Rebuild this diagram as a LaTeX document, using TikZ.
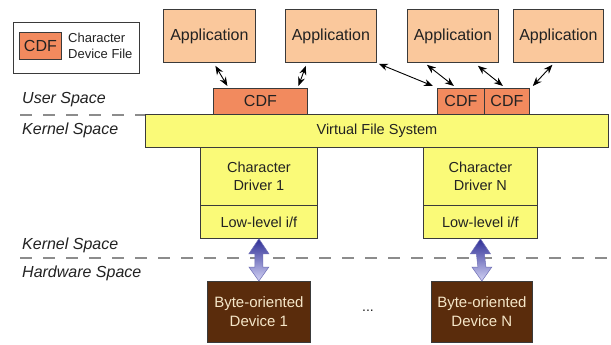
\documentclass[tikz,border=0pt]{standalone}
\usepackage{fontspec}
\setmainfont{Liberation Sans}
\usetikzlibrary{calc,arrows.meta}
\definecolor{appfill}{HTML}{FAC89C}
\definecolor{cdffill}{HTML}{F28A5E}
\definecolor{vfsfill}{HTML}{FAFA78}
\definecolor{devfill}{HTML}{5A2C0C}
\definecolor{devtext}{HTML}{F5E6C8}
\definecolor{linec}{HTML}{3A3A3A}
\definecolor{txt}{HTML}{222222}
\definecolor{dashc}{HTML}{8C8C8C}
\definecolor{arrdark}{HTML}{2E2E96}
\definecolor{arrlight}{HTML}{D2D2F4}
\begin{document}
\begin{tikzpicture}[x=1pt,y=-1pt,
  box/.style={draw=linec, line width=0.8pt, inner sep=0pt, anchor=north west, text=txt, align=center},
  appbox/.style={box, fill=appfill, font=\fontsize{16}{18}\selectfont},
  cdfbox/.style={box, fill=cdffill, font=\fontsize{16}{18}\selectfont},
  ybox/.style={box, fill=vfsfill, font=\fontsize{14.5}{18}\selectfont},
  devbox/.style={box, fill=devfill, text=devtext, font=\fontsize{15}{19}\selectfont},
  lbl/.style={anchor=west, inner sep=0pt, text=txt, font=\fontsize{16}{18}\selectfont\itshape},
  sep/.style={draw=dashc, line width=1.3pt, dash pattern=on 12pt off 11pt},
  link/.style={draw=black, line width=0.9pt, {Stealth[length=9pt,width=7pt]}-{Stealth[length=9pt,width=7pt]}},
  fat/.style={top color=arrdark, bottom color=arrlight, draw=arrdark!70, line width=0.5pt}
]
\useasboundingbox (0,0) rectangle (611,345);
\fill[white] (0,0) rectangle (611,345);

% separators
\coordinate (s1a) at (20,115); \coordinate (s1b) at (611,115);
\coordinate (s2a) at (20,258); \coordinate (s2b) at (611,258);
\draw[sep] (s1a) -- (s1b);
\draw[sep] (s2a) -- (s2b);

% legend
\node[box, fill=white, minimum width=126pt, minimum height=51pt] (legend) at (13,22) {};
\node[cdfbox, minimum width=42pt, minimum height=27pt] (lcdf) at (19,32) {CDF};
\node[anchor=west, inner sep=0pt, align=left, text=txt, font=\fontsize{13}{16}\selectfont] (ltext) at (68,46) {Character\\Device File};

% applications
\node[appbox, minimum width=92pt, minimum height=53pt] (app1) at (163,9) {Application};
\node[appbox, minimum width=91pt, minimum height=53pt] (app2) at (285,9) {Application};
\node[appbox, minimum width=91pt, minimum height=53pt] (app3) at (407,9) {Application};
\node[appbox, minimum width=90pt, minimum height=53pt] (app4) at (513,9) {Application};

% CDFs
\node[cdfbox, minimum width=94pt, minimum height=26pt] (cdf1) at (213,88) {CDF};
\node[cdfbox, minimum width=47pt, minimum height=26pt] (cdfa) at (437,88) {CDF};
\node[cdfbox, minimum width=45pt, minimum height=26pt] (cdfb) at (484,88) {CDF};

% VFS
\node[ybox, minimum width=463pt, minimum height=33pt] (vfs) at (145,114) {Virtual File System};

% drivers
\node[ybox, minimum width=117pt, minimum height=58pt] (drv1) at (200,147) {Character\\Driver 1};
\node[ybox, minimum width=117pt, minimum height=33pt] (ll1) at (200,205) {Low-level i/f};
\node[ybox, minimum width=114pt, minimum height=58pt] (drvN) at (423,147) {Character\\Driver N};
\node[ybox, minimum width=114pt, minimum height=33pt] (llN) at (423,205) {Low-level i/f};

% devices
\node[devbox, minimum width=103pt, minimum height=61pt] (dev1) at (207,281) {Byte-oriented\\Device 1};
\node[devbox, minimum width=101pt, minimum height=61pt] (devN) at (431,281) {Byte-oriented\\Device N};
\node[inner sep=0pt, text=txt, font=\fontsize{14}{16}\selectfont] (dots) at (368,311) {...};

% labels
\node[lbl] (us) at (22,100) {User Space};
\node[lbl] (ks1) at (22,130) {Kernel Space};
\node[lbl] (ks2) at (22,245) {Kernel Space};
\node[lbl] (hs) at (22,273) {Hardware Space};

% app-cdf links
\draw[link] ($(app1.south)+(6,3)$) -- ($(cdf1.north)+(-33,-2)$);
\draw[link] ($(app2.south)+(-25,3)$) -- ($(cdf1.north)+(38,-2)$);
\draw[link] ($(app2.south east)+(2,1)$) -- ($(cdfa.north west)+(-4,-2)$);
\draw[link] ($(app3.south)+(-26,2)$) -- ($(cdfa.north)+(-7,-2)$);
\draw[link] ($(app3.south)+(25,3)$) -- ($(cdfb.north)+(-4,-2)$);
\draw[link] ($(app4.south)+(-6,2)$) -- ($(cdfb.north east)+(3,-2)$);

% fat double arrows
\foreach \t/\b in {ll1/dev1, llN/devN}{
  \path[fat] (\t.south) -- ($(\t.south)+(10,15)$) -- ($(\t.south)+(4,15)$)
    -- ($(\b.north)+(4,-14)$) -- ($(\b.north)+(10,-14)$) -- (\b.north)
    -- ($(\b.north)+(-10,-14)$) -- ($(\b.north)+(-4,-14)$)
    -- ($(\t.south)+(-4,15)$) -- ($(\t.south)+(-10,15)$) -- cycle;
}
\end{tikzpicture}
\end{document}
